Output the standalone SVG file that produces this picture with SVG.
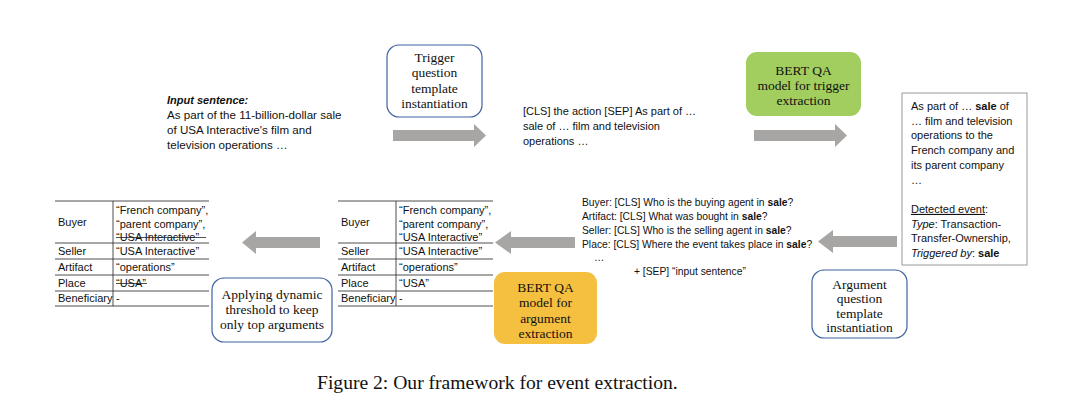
<svg xmlns="http://www.w3.org/2000/svg" width="1080" height="412" viewBox="0 0 1080 412">
<style>
.s{font-family:"Liberation Sans",Arial,sans-serif;font-size:11px;fill:#111}
.q{font-size:10.3px}
.i{font-size:11.6px}
.t{font-family:"Liberation Serif","Times New Roman",serif;font-size:13.5px;fill:#111;text-anchor:middle}
.b{font-weight:bold}
.bx{fill:#fff;stroke:#3f62a0;stroke-width:1.2}
.ar{fill:#a8a5a5;stroke:none}
.tl{stroke:#222;stroke-width:0.8;fill:none}
.st{stroke:#222;stroke-width:0.8}
</style>
<rect width="1080" height="412" fill="#fff"/>

<g id="input-sentence">
<text class="s" x="167" y="104" font-weight="bold" font-style="italic">Input sentence:</text>
<text class="s i" x="167" y="119">As part of the 11-billion-dollar sale</text>
<text class="s i" x="167" y="134">of USA Interactive's film and</text>
<text class="s i" x="167" y="149">television operations …</text>
</g>

<g id="trigger-template">
<rect class="bx" x="387" y="45" width="95" height="72" rx="12"/>
<text class="t" x="434.5" y="62">Trigger</text>
<text class="t" x="434.5" y="77">question</text>
<text class="t" x="434.5" y="93">template</text>
<text class="t" x="434.5" y="108">instantiation</text>
</g>

<g id="cls-text">
<text class="s" x="523" y="115">[CLS] the action [SEP] As part of …</text>
<text class="s" x="523" y="130">sale of … film and television</text>
<text class="s" x="523" y="145">operations …</text>
</g>

<g id="bert-trigger">
<rect x="746" y="52" width="115" height="64" rx="11" fill="#a2cd5f"/>
<text class="t" x="803.5" y="75">BERT QA</text>
<text class="t" x="803.5" y="90">model for trigger</text>
<text class="t" x="803.5" y="105">extraction</text>
</g>

<g id="detected-event">
<rect x="902" y="93" width="125" height="172" fill="#fff" stroke="#9a9a9a" stroke-width="1"/>
<text class="s" x="911" y="110">As part of … <tspan class="b">sale</tspan> of</text>
<text class="s" x="911" y="124.7">… film and television</text>
<text class="s" x="911" y="139.4">operations  to the</text>
<text class="s" x="911" y="154.1">French company and</text>
<text class="s" x="911" y="168.8">its parent company</text>
<text class="s" x="911" y="183.5">…</text>
<text class="s" x="911" y="212.9"><tspan text-decoration="underline">Detected event</tspan>:</text>
<text class="s" x="911" y="227.6"><tspan font-style="italic">Type</tspan>: Transaction-</text>
<text class="s" x="911" y="242.3">Transfer-Ownership,</text>
<text class="s" x="911" y="257"><tspan font-style="italic">Triggered by</tspan>: <tspan class="b">sale</tspan></text>
</g>

<g id="questions">
<text class="s q" x="582" y="206">Buyer: [CLS] Who is the buying agent in <tspan class="b">sale</tspan>?</text>
<text class="s q" x="582" y="220">Artifact: [CLS] What was bought in <tspan class="b">sale</tspan>?</text>
<text class="s q" x="582" y="234">Seller: [CLS] Who is the selling agent in <tspan class="b">sale</tspan>?</text>
<text class="s q" x="582" y="248">Place: [CLS] Where the event takes place in <tspan class="b">sale</tspan>?</text>
<text class="s q" x="594" y="261">…</text>
<text class="s q" x="634" y="275">+ [SEP] “input sentence”</text>
</g>

<g id="argument-template">
<rect class="bx" x="812" y="270" width="95" height="68" rx="12"/>
<text class="t" x="859.5" y="289">Argument</text>
<text class="t" x="859.5" y="303">question</text>
<text class="t" x="859.5" y="317.5">template</text>
<text class="t" x="859.5" y="332">instantiation</text>
</g>

<g id="bert-argument">
<rect x="494" y="272" width="103" height="72" rx="11" fill="#f5bf40"/>
<text class="t" x="545.5" y="292">BERT QA</text>
<text class="t" x="545.5" y="307">model for</text>
<text class="t" x="545.5" y="323">argument</text>
<text class="t" x="545.5" y="338">extraction</text>
</g>

<g id="table-raw">
<path class="tl" d="M338 201H493M338 243H493M338 259H493M338 275H493M338 291H493M338 306H493M396 201V306"/>
<text class="s" x="341" y="226">Buyer</text>
<text class="s" x="399" y="214">“French company”,</text>
<text class="s" x="399" y="228">“parent company”,</text>
<text class="s" x="399" y="241">“USA Interactive”</text>
<text class="s" x="341" y="255">Seller</text>
<text class="s" x="399" y="255">“USA Interactive”</text>
<text class="s" x="341" y="271">Artifact</text>
<text class="s" x="399" y="271">“operations”</text>
<text class="s" x="341" y="287">Place</text>
<text class="s" x="399" y="287">“USA”</text>
<text class="s" x="341" y="302">Beneficiary</text>
<text class="s" x="399" y="302">-</text>
</g>

<g id="threshold">
<rect class="bx" x="212" y="278" width="120" height="64" rx="12"/>
<text class="t" x="272" y="299">Applying dynamic</text>
<text class="t" x="272" y="314">threshold to keep</text>
<text class="t" x="272" y="329">only top arguments</text>
</g>

<g id="table-final">
<path class="tl" d="M55 201H209M55 243H209M55 259H209M55 275H209M55 291H209M55 306H209M113 201V306"/>
<text class="s" x="58" y="226">Buyer</text>
<text class="s" x="116" y="214">“French company”,</text>
<text class="s" x="116" y="228">“parent company”,</text>
<text class="s" x="116" y="241">“USA Interactive”</text>
<line class="st" x1="116" y1="237.5" x2="206" y2="237.5"/>
<text class="s" x="58" y="255">Seller</text>
<text class="s" x="116" y="255">“USA Interactive”</text>
<text class="s" x="58" y="271">Artifact</text>
<text class="s" x="116" y="271">“operations”</text>
<text class="s" x="58" y="287">Place</text>
<text class="s" x="116" y="287">“USA”</text>
<line class="st" x1="116" y1="283.5" x2="147" y2="283.5"/>
<text class="s" x="58" y="302">Beneficiary</text>
<text class="s" x="116" y="302">-</text>
</g>

<g id="connectors">
<path class="ar" d="M393 130H474V124L486 135.5L474 147V141H393Z"/>
<path class="ar" d="M754 130H835V124L847 135.5L835 147V141H754Z"/>
<path class="ar" d="M897 236H833V230L818 241.5L833 253V247H897Z"/>
<path class="ar" d="M575 237H511V231L495 242.5L511 254V248H575Z"/>
<path class="ar" d="M320 237H256V231L242 242.5L256 254V248H320Z"/>
</g>

<g id="caption">
<text x="317" y="389" font-family="'Liberation Serif','Times New Roman',serif" font-size="19.6" fill="#111">Figure 2: Our framework for event extraction.</text>
</g>
</svg>
